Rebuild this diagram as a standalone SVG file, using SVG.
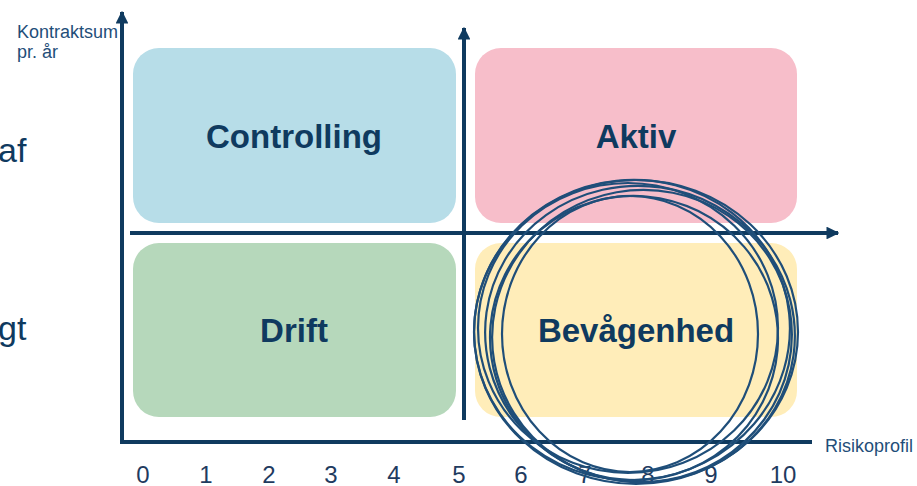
<svg xmlns="http://www.w3.org/2000/svg" width="917" height="486" viewBox="0 0 917 486">
<style>
.box{stroke:none}
.lbl{font-family:"Liberation Sans",Arial,sans-serif;font-weight:bold;font-size:33px;fill:#0F3A5F;text-anchor:middle}
.ax{stroke:#0F3A5F;stroke-width:4;fill:none}
.sm{font-family:"Liberation Sans",Arial,sans-serif;font-size:18px;fill:#1F4E79}
.num{font-family:"Liberation Sans",Arial,sans-serif;font-size:24px;fill:#1F3B5F;text-anchor:middle}
.big{font-family:"Liberation Sans",Arial,sans-serif;font-size:34px;fill:#0F3A5F}
.c{fill:none;stroke:#1F4E79;stroke-width:2.2}
</style>
<defs>
<marker id="ah" viewBox="0 0 10 10" refX="9" refY="5" markerWidth="3.2" markerHeight="3.2" orient="auto" markerUnits="strokeWidth">
<path d="M0,0 L10,5 L0,10 Z" fill="#0F3A5F"/>
</marker>
</defs>
<g id="node-controlling"><rect class="box" x="133" y="48" width="323" height="175" rx="26" fill="#B7DDE8"/><text class="lbl" x="294" y="148">Controlling</text></g>
<g id="node-aktiv"><rect class="box" x="475" y="48" width="322" height="175" rx="26" fill="#F7BECA"/><text class="lbl" x="636" y="148">Aktiv</text></g>
<g id="node-drift"><rect class="box" x="133" y="243" width="323" height="174" rx="26" fill="#B6D8BB"/><text class="lbl" x="294" y="342">Drift</text></g>
<g id="node-bevagenhed"><rect class="box" x="475" y="243" width="322" height="174" rx="26" fill="#FFEDB9"/><text class="lbl" x="636" y="342">Bevågenhed</text></g>
<g id="connectors">
<polyline class="ax" points="122,26 122,442 812,442"/>
<line class="ax" x1="122" y1="30" x2="122" y2="12" marker-end="url(#ah)"/>
<line class="ax" x1="464" y1="420" x2="464" y2="28" marker-end="url(#ah)"/>
<line class="ax" x1="130" y1="233" x2="838" y2="233" marker-end="url(#ah)"/>
</g>
<g id="labels">
<text class="sm" x="17" y="38">Kontraktsum</text>
<text class="sm" x="17" y="58">pr. år</text>
<text class="sm" x="825" y="452">Risikoprofil</text>
<text class="big" x="-2" y="162">af</text>
<text class="big" x="-2" y="340">gt</text>
<text class="num" x="143" y="483">0</text>
<text class="num" x="206" y="483">1</text>
<text class="num" x="269" y="483">2</text>
<text class="num" x="331" y="483">3</text>
<text class="num" x="394" y="483">4</text>
<text class="num" x="459" y="483">5</text>
<text class="num" x="521" y="483">6</text>
<text class="num" x="585" y="483">7</text>
<text class="num" x="648" y="483">8</text>
<text class="num" x="711" y="483">9</text>
<text class="num" x="783" y="483">10</text>
</g>
<g id="circles">
<ellipse class="c" cx="636" cy="332" rx="162" ry="152"/>
<ellipse class="c" cx="632" cy="330" rx="158" ry="150" transform="rotate(-6 632 330)"/>
<ellipse class="c" cx="640" cy="334" rx="155" ry="148" transform="rotate(8 640 334)"/>
<ellipse class="c" cx="628" cy="328" rx="150" ry="145"/>
<ellipse class="c" cx="642" cy="336" rx="150" ry="146" transform="rotate(-10 642 336)"/>
<ellipse class="c" cx="634" cy="338" rx="144" ry="142" transform="rotate(5 634 338)"/>
<ellipse class="c" cx="630" cy="334" rx="128" ry="138"/>
</g>
</svg>
